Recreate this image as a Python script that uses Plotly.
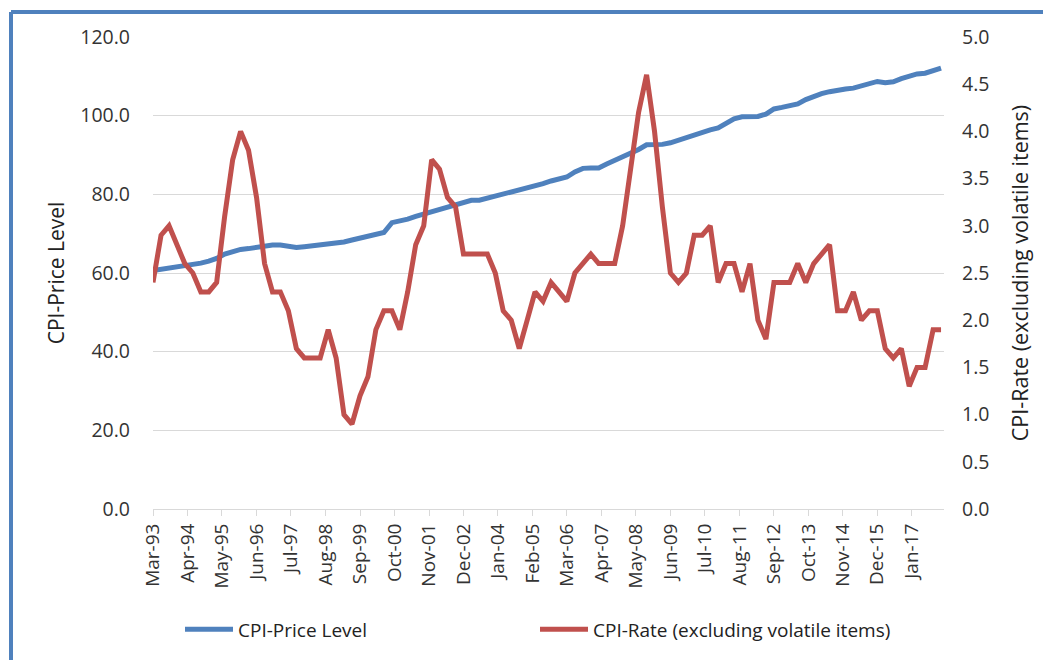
import pandas as pd
import plotly.graph_objects as go

# Quarterly observations, Mar-93 .. Dec-17
dates = pd.date_range("1993-03-01", periods=100, freq="3MS")

cpi_price_level = [
    60.6, 60.9, 61.2, 61.4, 61.8, 62.1, 62.5, 63.0, 63.7, 64.8,
    65.5, 66.0, 66.2, 66.6, 67.0, 67.1, 67.1, 66.8, 66.5, 66.7,
    66.9, 67.3, 67.6, 67.7, 67.9, 68.4, 68.9, 69.4, 69.9, 70.3,
    72.8, 73.2, 73.7, 74.4, 75.0, 75.6, 76.0, 76.6, 77.2, 77.9,
    78.5, 78.5, 79.0, 79.6, 80.2, 80.6, 81.1, 81.6, 82.1, 82.7,
    83.4, 83.9, 84.4, 85.7, 86.6, 86.7, 86.7, 87.7, 88.6, 89.3,
    90.3, 91.4, 92.6, 92.5, 92.7, 93.1, 93.8, 94.3, 94.9, 95.6,
    96.4, 96.9, 98.2, 99.2, 99.7, 99.8, 99.8, 100.4, 101.7, 102.1,
    102.5, 103.0, 104.1, 104.9, 105.6, 106.1, 106.6, 106.8, 107.0, 107.6,
    108.2, 108.7, 108.4, 108.6, 109.4, 110.1, 110.6, 110.8, 111.3, 112.1,
]

cpi_rate = [
    2.4, 2.9, 3.0, 2.8, 2.6, 2.5, 2.3, 2.3, 2.4, 3.1,
    3.7, 4.0, 3.8, 3.3, 2.6, 2.3, 2.3, 2.1, 1.7, 1.6,
    1.6, 1.6, 1.9, 1.6, 1.0, 0.9, 1.2, 1.4, 1.9, 2.1,
    2.1, 1.9, 2.3, 2.8, 3.0, 3.7, 3.6, 3.3, 3.2, 2.7,
    2.7, 2.7, 2.7, 2.5, 2.1, 2.0, 1.7, 2.0, 2.3, 2.2,
    2.4, 2.3, 2.2, 2.5, 2.6, 2.7, 2.6, 2.6, 2.6, 3.0,
    3.6, 4.2, 4.6, 4.0, 3.2, 2.5, 2.4, 2.5, 2.9, 2.9,
    3.0, 2.4, 2.6, 2.6, 2.3, 2.6, 2.0, 1.8, 2.4, 2.4,
    2.4, 2.6, 2.4, 2.6, 2.7, 2.8, 2.1, 2.1, 2.3, 2.0,
    2.1, 2.1, 1.7, 1.6, 1.7, 1.3, 1.5, 1.5, 1.9, 1.9,
]

name_level = "CPI-Price Level"
name_rate = "CPI-Rate (excluding volatile items)"

BLUE = "#4F81BD"
RED = "#C0504D"
TXT = "#333333"
TTL = "#222222"
GRID = "#D9D9D9"
FONT = "Open Sans"

# The page body has an 8px default margin; the figure is sized to fit the window.
OFF = 8
W, H = 1051 - OFF, 660 - OFF

def fx(page_x):
    return page_x - OFF

def fy(page_y):
    return page_y - OFF

L = fx(153)
R = W - fx(944)
T = fy(37)
B = H - fy(511)
pw = W - L - R
ph = H - T - B

def px(page_x):
    return (fx(page_x) - L) / pw

def py(page_y):
    return (H - B - fy(page_y)) / ph

fig = go.Figure()
fig.add_trace(go.Scatter(x=dates, y=cpi_price_level, name=name_level, mode="lines",
                         line=dict(color=BLUE, width=5), legend="legend"))
fig.add_trace(go.Scatter(x=dates, y=cpi_rate, name=name_rate, mode="lines",
                         line=dict(color=RED, width=5), yaxis="y2", legend="legend2"))

fig.update_layout(
    width=W, height=H,
    margin=dict(l=L, r=R, t=T, b=B),
    paper_bgcolor="white", plot_bgcolor="white",
    font=dict(family=FONT, size=19, color=TXT),
    xaxis=dict(
        type="date",
        range=["1993-03-01", "2018-01-04"],
        tick0="1993-03-01", dtick="M13", tickformat="%b-%y",
        tickangle=-90, ticks="outside", ticklen=6, tickcolor=GRID,
        showline=True, linecolor=GRID, linewidth=1,
        showgrid=False, zeroline=False, automargin=False,
        tickfont=dict(size=19, color=TXT),
    ),
    yaxis=dict(
        range=[0, 120], dtick=20, tickformat=".1f",
        showgrid=True, gridcolor=GRID, gridwidth=1, zeroline=False,
        showline=False, ticks="", ticklabelstandoff=22, automargin=False,
        tickfont=dict(size=19.5, color=TXT),
        title=dict(text=name_level, font=dict(size=21, color=TTL), standoff=9),
    ),
    yaxis2=dict(
        range=[0, 5], dtick=0.5, tickformat=".1f",
        overlaying="y", side="right",
        showgrid=False, zeroline=False, showline=False, ticks="",
        ticklabelstandoff=17, automargin=False,
        tickfont=dict(size=19.5, color=TXT),
        title=dict(text=name_rate, font=dict(size=21.5, color=TTL), standoff=24),
    ),
    legend=dict(orientation="h", x=px(180), y=py(632), xanchor="left", yanchor="middle",
                itemwidth=48, font=dict(size=19, color=TTL), bgcolor="rgba(0,0,0,0)"),
    legend2=dict(orientation="h", x=px(535), y=py(632), xanchor="left", yanchor="middle",
                 itemwidth=48, font=dict(size=19, color=TTL), bgcolor="rgba(0,0,0,0)"),
    showlegend=True,
    hovermode=False,
)

# Blue frame along the left and top edges of the picture
fig.add_shape(type="line", xref="paper", yref="paper",
              x0=px(11), x1=px(1070), y0=py(12), y1=py(12),
              line=dict(color=BLUE, width=4))
fig.add_shape(type="line", xref="paper", yref="paper",
              x0=px(11), x1=px(11), y0=py(12), y1=py(680),
              line=dict(color=BLUE, width=4))

fig.write_html("out.html", config={"displayModeBar": False})
